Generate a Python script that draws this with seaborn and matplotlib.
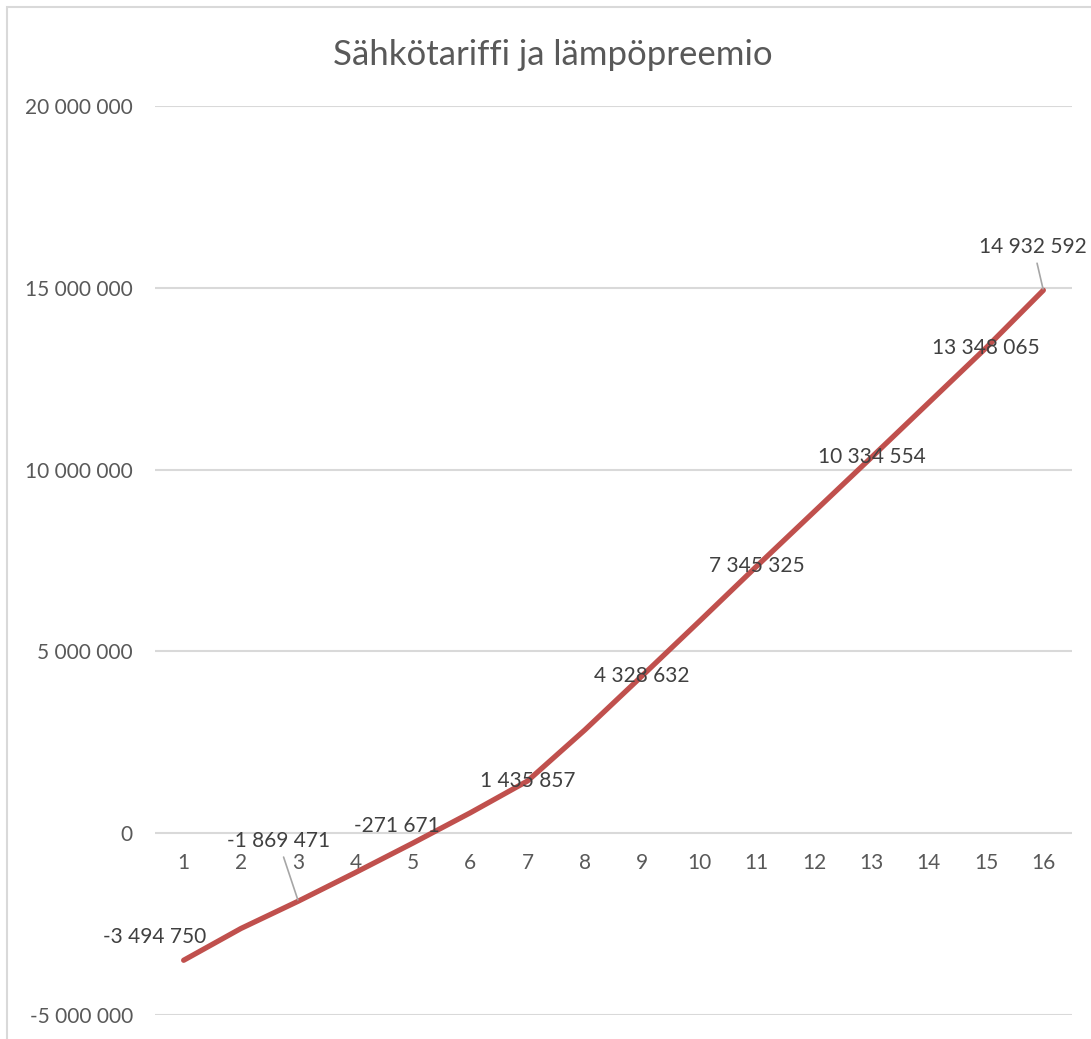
import numpy as np
import pandas as pd
import matplotlib
matplotlib.use("Agg")
import matplotlib.pyplot as plt
import matplotlib.ticker as mticker
from matplotlib.patches import Rectangle
import seaborn as sns

# ===================== DATA =====================
periods = list(range(1, 17))
values = [-3494750, -2620000, -1869471, -1080000, -271671, 560000, 1435857,
          2840000, 4328632, 5830000, 7345325, 8840000, 10334554, 11840000,
          13348065, 14932592]
# which points carry a data label
labelled = [1, 3, 5, 7, 9, 11, 13, 15, 16]
title = "Sähkötariffi ja lämpöpreemio"

df = pd.DataFrame({"period": periods, "value": values})

# ===================== STYLE =====================
sns.set_style("white")
plt.rcParams["font.family"] = ["Lato", "DejaVu Sans"]
grey_txt = "#595959"
grid_col = "#d9d9d9"
line_col = "#c0504d"

W, H = 1091, 1039
fig = plt.figure(figsize=(W / 100, H / 100), dpi=100)
ax = fig.add_axes([155 / W, 1 - 1015 / H, (1072 - 155) / W, (1015 - 106) / H])

sns.lineplot(data=df, x="period", y="value", ax=ax, color=line_col,
             linewidth=3.8, solid_capstyle="round", solid_joinstyle="round")

ax.set_xlim(0.5, 16.5)
ax.set_ylim(-5_000_000, 20_000_000)
ax.set_yticks(np.arange(-5_000_000, 20_000_001, 5_000_000))
ax.set_xticks(periods)
ax.yaxis.set_major_formatter(
    mticker.FuncFormatter(lambda v, p: f"{int(v):,}".replace(",", " ")))
ax.grid(axis="y", color=grid_col, linewidth=1.5)
ax.grid(axis="x", visible=False)
ax.set_axisbelow(True)
for s in ["left", "right", "top"]:
    ax.spines[s].set_visible(False)
ax.spines["bottom"].set_position(("data", 0))
ax.spines["bottom"].set_visible(False)
ax.tick_params(axis="x", length=0, pad=14, labelsize=15, labelcolor=grey_txt)
ax.tick_params(axis="y", length=0, pad=16, labelsize=15, labelcolor=grey_txt)
ax.set_xlabel("")
ax.set_ylabel("")

# data labels (offsets in pixels, a few moved by hand with leader lines)
offsets = {1: (-29, 23), 3: (-20, 60), 5: (-16, 17), 16: (-10, 43)}
leaders = {3, 16}
for p in labelled:
    v = values[p - 1]
    txt = f"{v:,}".replace(",", " ")
    dx, dy = offsets.get(p, (0, 0))
    kw = {}
    if p in leaders:
        kw["arrowprops"] = dict(arrowstyle="-", color="#a6a6a6", lw=1.2,
                                shrinkA=2, shrinkB=1)
    ax.annotate(txt, (p, v), xytext=(dx, dy), textcoords="offset pixels",
                ha="center", va="center", fontsize=15, color="#404040",
                zorder=5, **kw)

fig.text(553 / W, 1 - 55 / H, title, ha="center", va="center",
         fontsize=25, color=grey_txt)

# chart area border (cut off at right and bottom)
fig.add_artist(Rectangle((7 / W, -0.05), 1.2, 1.05 - 7 / H,
                         transform=fig.transFigure, fill=False,
                         edgecolor=grid_col, linewidth=1.5))

fig.savefig("out.png", dpi=100, facecolor="white")
